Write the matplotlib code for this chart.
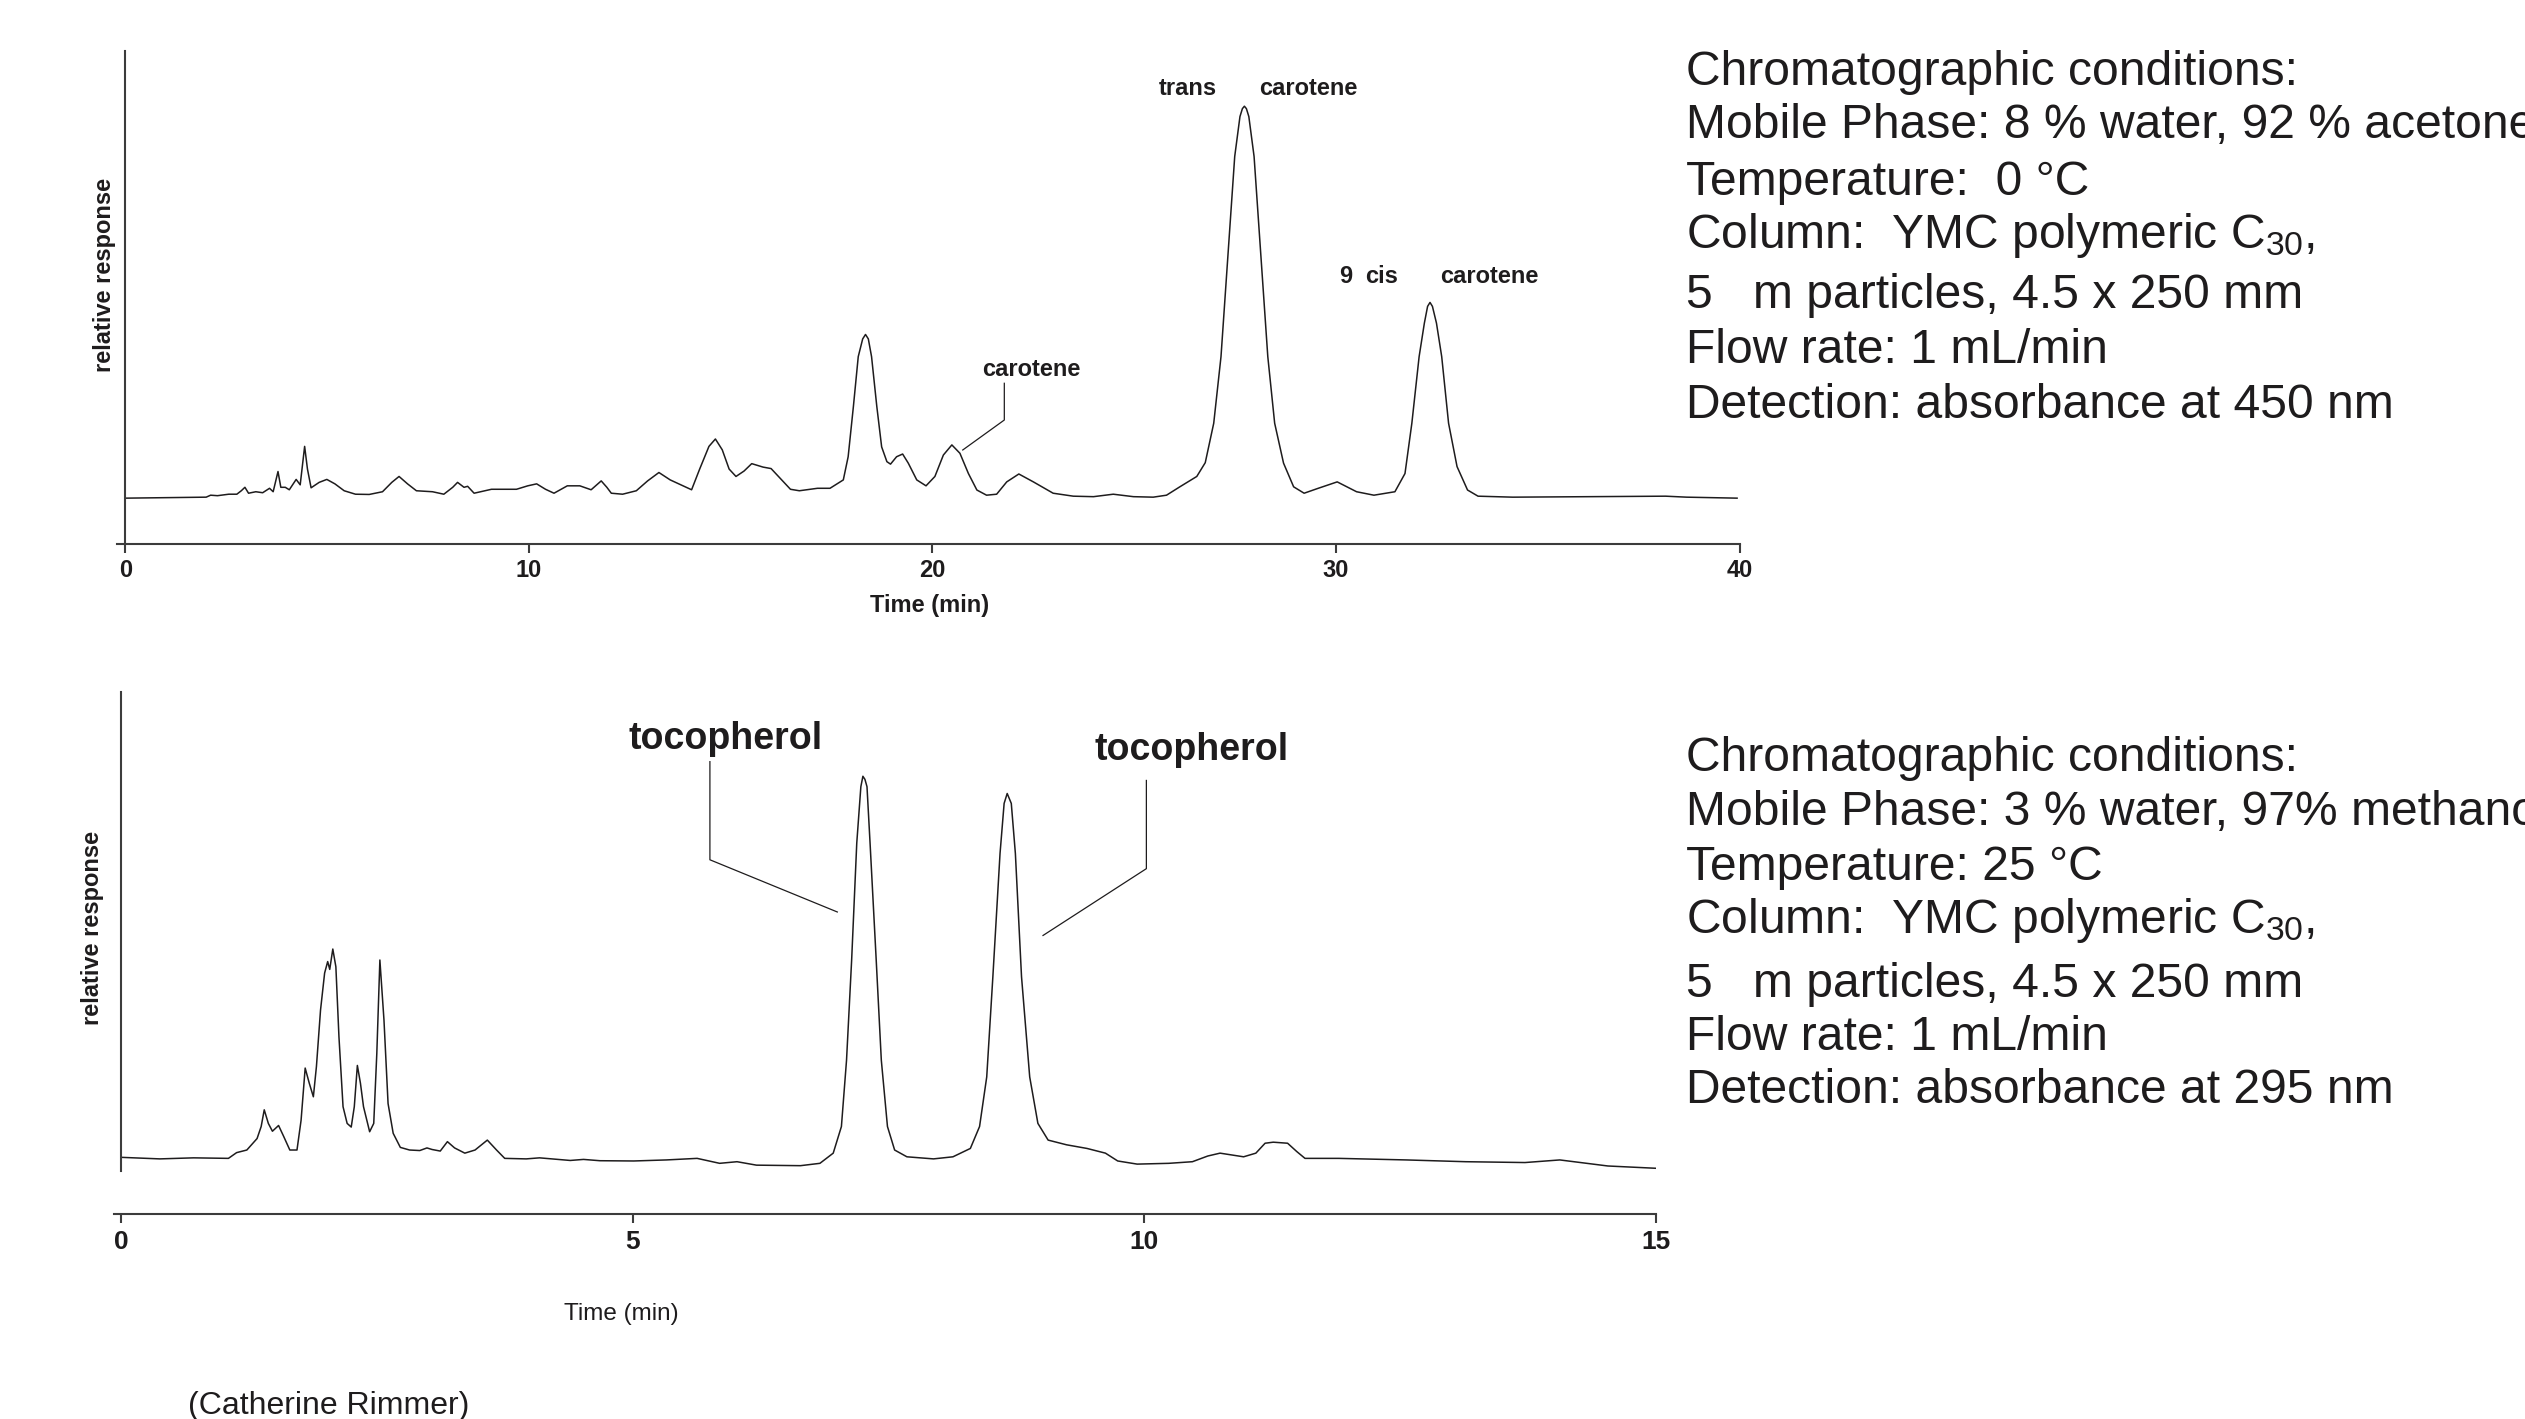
import matplotlib
matplotlib.use("Agg")
import matplotlib.pyplot as plt

plt.rcParams['font.family'] = ['Liberation Sans', 'DejaVu Sans']
plt.rcParams['mathtext.fontset'] = 'custom'
plt.rcParams['mathtext.rm'] = 'Liberation Sans'
plt.rcParams['mathtext.it'] = 'Liberation Sans:italic'
plt.rcParams['mathtext.bf'] = 'Liberation Sans:bold'

# ---- carotenoid separation (detection at 450 nm) ----
carot_time = [0.00, 0.99, 2.00, 2.11, 2.28, 2.56, 2.76, 2.87, 2.96, 3.05, 3.23, 3.40,
              3.57, 3.66, 3.78, 3.85, 3.96, 4.06, 4.23, 4.33, 4.44, 4.51, 4.60, 4.80,
              4.99, 5.19, 5.42, 5.70, 6.04, 6.37, 6.60, 6.78, 6.99, 7.21, 7.61, 7.89,
              8.11, 8.23, 8.39, 8.48, 8.64, 9.07, 9.69, 9.97, 10.19, 10.41, 10.62, 10.95,
              11.26, 11.54, 11.79, 11.93, 12.04, 12.32, 12.66, 12.94, 13.22, 13.50, 13.78,
              14.03, 14.23, 14.46, 14.62, 14.79, 14.96, 15.13, 15.33, 15.52, 15.80, 16.00,
              16.25, 16.48, 16.70, 17.15, 17.46, 17.79, 17.91, 18.04, 18.16, 18.27, 18.34,
              18.41, 18.49, 18.62, 18.74, 18.87, 18.96, 19.11, 19.26, 19.40, 19.61, 19.84,
              20.06, 20.27, 20.48, 20.68, 20.89, 21.10, 21.34, 21.59, 21.84, 22.14, 22.50,
              22.99, 23.49, 23.99, 24.48, 24.98, 25.47, 25.80, 26.13, 26.55, 26.76, 26.97,
              27.15, 27.32, 27.49, 27.62, 27.68, 27.73, 27.78, 27.84, 27.97, 28.14, 28.31,
              28.48, 28.70, 28.95, 29.21, 29.56, 30.03, 30.51, 30.94, 31.46, 31.71, 31.88,
              32.06, 32.19, 32.27, 32.33, 32.39, 32.49, 32.62, 32.79, 33.00, 33.26, 33.52,
              34.38, 36.10, 38.17, 38.69, 39.94]
carot_resp = [9.3, 9.4, 9.5, 9.9, 9.8, 10.1, 10.1, 10.8, 11.5, 10.3, 10.6, 10.4,
              11.3, 10.6, 14.7, 11.5, 11.5, 11.0, 13.1, 12.0, 19.8, 15.2, 11.4, 12.5,
              13.1, 12.2, 10.8, 10.1, 10.05, 10.6, 12.5, 13.7, 12.2, 10.8, 10.6, 10.1,
              11.5, 12.5, 11.5, 11.7, 10.3, 11.1, 11.1, 11.8, 12.2, 11.1, 10.3, 11.8,
              11.8, 11.0, 12.8, 11.5, 10.3, 10.1, 10.8, 12.8, 14.5, 13.0, 11.95,
              11.0, 15.2, 19.8, 21.3, 19.1, 15.2, 13.7, 14.8, 16.3, 15.6, 15.3,
              13.1, 11.1, 10.8, 11.3, 11.3, 13.0, 17.7, 27.9, 38.0, 41.6, 42.5,
              41.6, 38.0, 27.9, 19.7, 16.7, 16.2, 17.7, 18.25, 16.4, 13.0, 11.8,
              13.7, 18.05, 20.1, 18.4, 14.3, 10.95, 9.9, 10.1, 12.6, 14.2, 12.6,
              10.3, 9.7, 9.6, 10.1, 9.6, 9.5, 9.9, 11.6, 13.7, 16.5, 24.5,
              38.0, 58.3, 78.6, 86.7, 88.3, 88.8, 88.3, 86.7, 78.6, 58.3, 38.0,
              24.5, 16.4, 11.6, 10.3, 11.3, 12.6, 10.6, 9.9, 10.6, 14.3, 24.5,
              38.0, 44.8, 48.2, 49.0, 48.2, 44.8, 38.0, 24.5, 15.7, 10.95, 9.7,
              9.5, 9.6, 9.7, 9.5, 9.3]
carot_ticks = [0, 10, 20, 30, 40]

# ---- tocopherol separation (detection at 295 nm) ----
toco_time = [0.00, 0.38, 0.71, 1.05, 1.13, 1.23, 1.33, 1.37, 1.40, 1.44, 1.48, 1.54,
             1.59, 1.65, 1.72, 1.76, 1.80, 1.84, 1.88, 1.91, 1.95, 1.99, 2.02, 2.04,
             2.07, 2.10, 2.13, 2.17, 2.21, 2.25, 2.28, 2.31, 2.34, 2.37, 2.43, 2.47,
             2.50, 2.53, 2.57, 2.61, 2.66, 2.73, 2.82, 2.92, 2.99, 3.04, 3.12, 3.19,
             3.26, 3.36, 3.46, 3.58, 3.67, 3.75, 3.96, 4.09, 4.39, 4.52, 4.68, 5.01,
             5.33, 5.63, 5.85, 6.02, 6.21, 6.64, 6.83, 6.96, 7.04, 7.09, 7.14, 7.19,
             7.23, 7.25, 7.27, 7.29, 7.32, 7.38, 7.43, 7.49, 7.56, 7.68, 7.94, 8.13,
             8.30, 8.39, 8.46, 8.52, 8.59, 8.63, 8.66, 8.70, 8.74, 8.80, 8.88, 8.96,
             9.06, 9.24, 9.44, 9.62, 9.74, 9.93, 10.24, 10.47, 10.62, 10.74, 10.97,
             11.09, 11.18, 11.26, 11.40, 11.49, 11.57, 11.90, 12.56, 13.14, 13.72,
             14.06, 14.53, 15.00]
toco_resp = [10.8, 10.5, 10.7, 10.6, 11.7, 12.2, 14.4, 16.7, 19.9, 17.3, 15.8, 16.9,
             14.8, 12.2, 12.2, 17.9, 27.9, 25.0, 22.4, 28.2, 39.0, 46.1, 48.3, 46.8,
             50.7, 47.3, 33.9, 20.5, 17.3, 16.6, 20.5, 28.4, 25.0, 20.5, 15.7, 17.3,
             30.7, 48.6, 37.1, 21.1, 15.4, 12.7, 12.2, 12.1, 12.6, 12.3, 12.0, 13.8,
             12.6, 11.6, 12.2, 14.1, 12.2, 10.6, 10.5, 10.7, 10.2, 10.4, 10.15, 10.1,
             10.3, 10.6, 9.65, 9.96, 9.3, 9.2, 9.65, 11.6, 16.7, 29.4, 48.6, 71.0,
             81.8, 83.8, 83.2, 81.8, 71.0, 48.6, 29.4, 16.7, 12.2, 10.9, 10.5, 10.9,
             12.5, 16.7, 26.2, 45.4, 69.0, 78.6, 80.5, 78.6, 69.0, 45.4, 26.2, 17.3,
             14.1, 13.2, 12.5, 11.6, 10.1, 9.5, 9.65, 9.96, 11.05, 11.6, 10.9,
             11.6, 13.5, 13.7, 13.5, 11.9, 10.6, 10.6, 10.3, 9.96, 9.8,
             10.3, 9.14, 8.7]
toco_ticks = [0, 5, 10, 15]

conditions_carot = [
    "Chromatographic conditions:",
    "Mobile Phase: 8 % water, 92 % acetone",
    "Temperature:  0 \u00b0C",
    "Column:  YMC polymeric C$_{30}$,",
    "5   m particles, 4.5 x 250 mm",
    "Flow rate: 1 mL/min",
    "Detection: absorbance at 450 nm",
]
conditions_toco = [
    "Chromatographic conditions:",
    "Mobile Phase: 3 % water, 97% methanol",
    "Temperature: 25 \u00b0C",
    "Column:  YMC polymeric C$_{30}$,",
    "5   m particles, 4.5 x 250 mm",
    "Flow rate: 1 mL/min",
    "Detection: absorbance at 295 nm",
]

INK = '#1e1c1d'
AXC = '#3c3c3c'
W, H = 2525, 1419
fig = plt.figure(figsize=(W / 100, H / 100), dpi=100)


def px_axes(left, right, top, bottom):
    return fig.add_axes([left / W, 1 - bottom / H, (right - left) / W, (bottom - top) / H])


def style_axes(ax, ticks, xlim, ybottom, ticksize, pad):
    ax.set_xlim(*xlim)
    ax.set_ylim(0, 100)
    for side in ('top', 'right'):
        ax.spines[side].set_visible(False)
    ax.spines['left'].set_position(('data', 0))
    ax.spines['left'].set_bounds(ybottom, 100)
    for side in ('left', 'bottom'):
        ax.spines[side].set_color(AXC)
        ax.spines[side].set_linewidth(1.5)
    ax.set_yticks([])
    ax.set_xticks(ticks)
    ax.set_xticklabels([str(t) for t in ticks], fontweight='bold')
    ax.tick_params(axis='x', direction='out', length=6.5, width=1.5, color=AXC,
                   labelsize=ticksize, pad=pad, labelcolor=INK)
    ax.patch.set_alpha(0)


# top panel: carotenoids
ax1 = px_axes(116.6, 1739.5, 51, 544)
ax1.plot(carot_time, carot_resp, color=INK, lw=1.1)
style_axes(ax1, carot_ticks, (-0.22, 40), 0, 17, 4.0)
ax1.set_xlabel("Time (min)", fontsize=17, fontweight='bold', color=INK, va='center')
ax1.xaxis.set_label_coords(0.5012, -0.1257)
ax1.set_ylabel("relative response", fontsize=17, fontweight='bold', color=INK,
               va='center', ha='center')
ax1.yaxis.set_label_coords(-0.00715, 0.5456)

small = dict(fontsize=17, fontweight='bold', color=INK, ha='center', va='baseline')
ax1.text(26.34, 91.0, "trans", **small)
ax1.text(29.31, 91.0, "carotene", **small)
ax1.text(30.24, 52.9, "9", **small)
ax1.text(31.14, 52.9, "cis", **small)
ax1.text(33.79, 52.9, "carotene", **small)
ax1.text(22.44, 34.1, "carotene", **small)
ax1.plot([21.78, 21.78, 20.75], [32.6, 25.15, 19.07], color=INK, lw=0.9)

# bottom panel: tocopherols
ax2 = px_axes(113.5, 1656, 691.7, 1213.7)
ax2.plot(toco_time, toco_resp, color=INK, lw=1.1)
style_axes(ax2, toco_ticks, (-0.073, 15), 8.26, 19, 5.5)
ax2.set_xlabel("Time (min)", fontsize=17.5, color=INK, va='center')
ax2.xaxis.set_label_coords(0.3293, -0.1920)
ax2.set_ylabel("relative response", fontsize=17, fontweight='bold', color=INK,
               va='center', ha='center')
ax2.yaxis.set_label_coords(-0.0136, 0.5483)

big = dict(fontsize=27, fontweight='bold', color=INK, ha='center', va='baseline')
ax2.text(5.905, 89.0, "tocopherol", **big)
ax2.text(10.46, 87.0, "tocopherol", **big)
ax2.plot([5.755, 5.755, 7.0], [86.6, 67.8, 57.8], color=INK, lw=0.9)
ax2.plot([10.02, 10.02, 9.01], [83.0, 66.1, 53.3], color=INK, lw=0.9)

# condition blocks (the long mobile-phase lines run past the right edge)
top_baselines = [85, 138, 195, 248, 308, 363, 418]
bot_baselines = [771, 825, 880, 933, 997, 1050, 1103]
for line, yb in zip(conditions_carot, top_baselines):
    fig.text(1686 / W, 1 - yb / H, line, fontsize=34.6, color=INK, ha='left', va='baseline')
for line, yb in zip(conditions_toco, bot_baselines):
    fig.text(1686 / W, 1 - yb / H, line, fontsize=34.6, color=INK, ha='left', va='baseline')

fig.text(328.5 / W, 1 - 1406 / H, "(Catherine Rimmer)", fontsize=23, color=INK,
         ha='center', va='center')

fig.savefig("out.png", dpi=100)
